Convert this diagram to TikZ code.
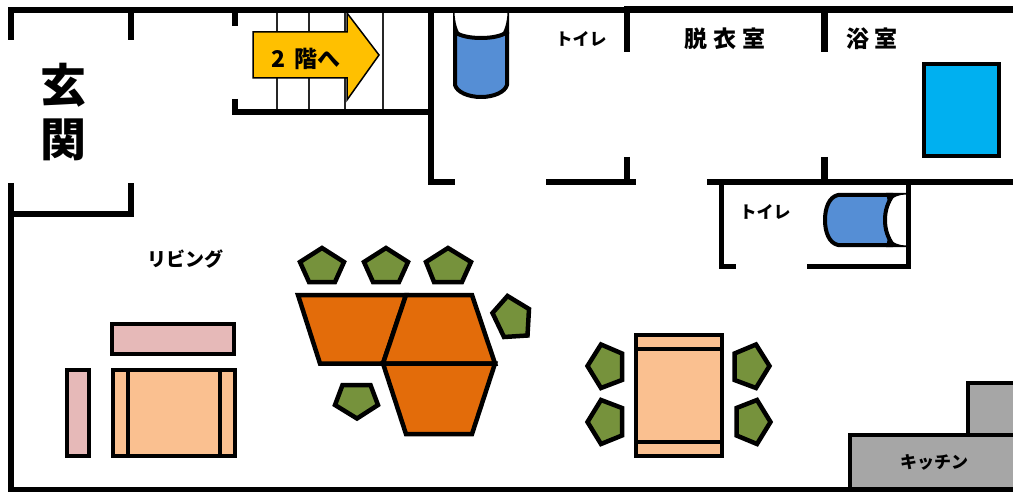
\documentclass[tikz,border=0pt]{standalone}
\usepackage{fontspec}
\newfontfamily\cjk{Noto Sans CJK JP}
\definecolor{chairgreen}{HTML}{76923C}
\definecolor{tableorange}{HTML}{E36C0A}
\definecolor{woodtan}{HTML}{FAC090}
\definecolor{sofapink}{HTML}{E6B9B8}
\definecolor{toiletblue}{HTML}{558ED5}
\definecolor{bathblue}{HTML}{00B0F0}
\definecolor{arrowgold}{HTML}{FFC000}
\definecolor{counter}{HTML}{A6A6A6}
\tikzset{
  wall/.style={line width=6pt,black,line join=miter},
  thinwall/.style={line width=5pt,black,line join=miter},
  tread/.style={line width=1.5pt,black!85},
  chair/.style={draw=black,line width=4.5pt,fill=chairgreen,line join=miter},
  lowtable/.style={draw=black,line width=4.5pt,fill=tableorange,line join=miter},
  wood/.style={draw=black,line width=4pt,fill=woodtan},
  sofa/.style={draw=black,line width=4pt,fill=sofapink},
  fixture/.style={draw=black,line width=4pt,fill=toiletblue,line join=round},
  room/.style={font=\cjk\bfseries\fontsize{17}{17}\selectfont,inner sep=0pt,black},
  bigroom/.style={room,font=\cjk\bfseries\fontsize{23}{23}\selectfont},
  genkan/.style={room,font=\cjk\bfseries\fontsize{46}{46}\selectfont},
}
\begin{document}
\begin{tikzpicture}[x=1pt,y=-1pt]
\useasboundingbox (0,0) rectangle (1013,492);
\fill[white] (0,0) rectangle (1013,492);
\clip (0,0) rectangle (1013,492);
% stairs
\foreach \sx in {277,309,345,383}{\draw[tread] (\sx,10) -- (\sx,112);}
\draw[draw=black,line width=1.5pt,fill=arrowgold,line join=miter]
  (253,32) -- (347,32) -- (347,13) -- (379,55) -- (347,100) -- (347,78) -- (253,78) -- cycle;
% walls
\draw[wall] (11,40) -- (11,10) -- (1013,10);
\draw[wall] (131,10) -- (131,40);
\draw[wall] (11,183) -- (11,490) -- (1013,490);
\draw[wall] (11,214) -- (131,214) -- (131,183);
\draw[wall] (235,10) -- (235,26);
\draw[wall] (235,99) -- (235,112) -- (431,112);
\draw[wall] (431,10) -- (431,182) -- (455,182);
\draw[wall] (546,182) -- (636,182);
\draw[wall] (627,10) -- (627,52);
\draw[wall] (627,157) -- (627,185);
\draw[line width=7pt] (624,9.5) -- (1013,9.5);
\draw[line width=7pt] (824,10) -- (824,52);
\draw[line width=7pt] (824,157) -- (824,182);
\draw[wall] (707,182) -- (1013,182);
\draw[thinwall] (721.5,182) -- (721.5,266) -- (736,266);
\draw[thinwall] (807,266) -- (908,266) -- (908,182);
% bath
\draw[draw=black,line width=4pt,fill=bathblue] (924,64) rectangle (999,156);
% toilet, upper
\draw[fixture] (455,32) .. controls (460,36) and (470,38) .. (481,38)
  .. controls (492,38) and (502,36) .. (507,32) -- (507,85)
  .. controls (505,92) and (494,97) .. (481,97)
  .. controls (468,97) and (457,92) .. (455,85) -- cycle;
\fill[black] (453,13) -- (453,34) -- (462,37) .. controls (457,31) and (455,22) .. (454.5,13) -- cycle;
\fill[black] (509,13) -- (509,34) -- (500,37) .. controls (505,31) and (507,22) .. (507.5,13) -- cycle;
% toilet, lower
\draw[fixture] (893,195) -- (838,195) .. controls (829,197) and (825,208) .. (825,220)
  .. controls (825,232) and (829,243) .. (838,245) -- (893,245)
  .. controls (888,238) and (885,230) .. (885,220)
  .. controls (885,210) and (888,202) .. (893,195) -- cycle;
\fill[black] (906,193) -- (886,193) -- (888,202) .. controls (893,197) and (899,194.5) .. (906,194.5) -- cycle;
\fill[black] (906,247) -- (886,247) -- (888,238) .. controls (893,243) and (899,245.5) .. (906,245.5) -- cycle;
% sofa set
\draw[sofa] (112,324) rectangle (234,354);
\draw[sofa] (67,370) rectangle (89,456);
\draw[wood] (113,370) rectangle (235,456);
\draw[wood,fill=none] (128,370) -- (128,456) (220,370) -- (220,456);
% low tables
\draw[lowtable] (298,295) -- (406,295) -- (383,363.5) -- (320,363.5) -- cycle;
\draw[lowtable] (406,295) -- (472,295) -- (495,363.5) -- (383,363.5) -- cycle;
\draw[lowtable] (383,363.5) -- (495,363.5) -- (472,434) -- (406,434) -- cycle;
% chairs around low tables
\draw[chair] (322,248) -- (344,262) -- (335,282) -- (309,282) -- (300,262) -- cycle;
\draw[chair] (386,248) -- (408,262) -- (399,282) -- (373,282) -- (364,262) -- cycle;
\draw[chair] (448,248) -- (471,262) -- (462,282) -- (434,282) -- (426,262) -- cycle;
\draw[chair] (507.5,296) -- (529,309) -- (527.5,335.5) -- (504,337) -- (492.5,313) -- cycle;
\draw[chair] (342.5,385) -- (370.5,385) -- (378,405) -- (357,418.5) -- (335,405) -- cycle;
% dining table
\draw[wood] (636,335) rectangle (722,456);
\draw[wood,fill=none] (636,349) -- (722,349) (636,442) -- (722,442);
\draw[chair] (622,353.5) -- (622,380) -- (601,388) -- (587.5,366) -- (601,344.5) -- cycle;
\draw[chair] (622,408) -- (622,435.5) -- (601,444) -- (587.5,422) -- (601,400) -- cycle;
\draw[chair] (734.5,353.5) -- (734.5,380) -- (756,388) -- (769.5,366) -- (756,344.5) -- cycle;
\draw[chair] (736.5,408) -- (736.5,435.5) -- (757,444) -- (770.5,422) -- (757,400) -- cycle;
% kitchen
\draw[draw=black,line width=4pt,fill=counter] (968,383) rectangle (1020,440);
\draw[draw=black,line width=4pt,fill=counter] (850,435) rectangle (1020,495);
\draw[wall] (848,490) -- (1013,490);
% labels
\node[genkan] (genkan1) at (64,85) {玄};
\node[genkan] (genkan2) at (64,140) {関};
\node[bigroom] (up) at (306,59) {2\hspace{9pt}階へ};
\node[room] (wc1) at (581,39) {トイレ};
\node[bigroom] (datsui) at (725,39) {脱\hspace{6pt}衣\hspace{6pt}室};
\node[bigroom] (yoku) at (872,39) {浴\hspace{6pt}室};
\node[room] (wc2) at (765,212) {トイレ};
\node[room,font=\cjk\bfseries\fontsize{19}{19}\selectfont] (living) at (185,259) {リビング};
\node[room] (kitchen) at (934,462) {キッチン};
\end{tikzpicture}
\end{document}
